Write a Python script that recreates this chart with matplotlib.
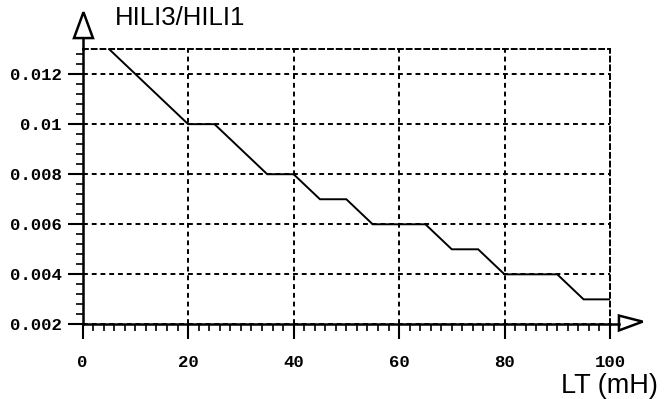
import matplotlib
matplotlib.use('Agg')
import matplotlib.pyplot as plt
from matplotlib.patches import Polygon
from matplotlib.ticker import MultipleLocator
import numpy as np

# inductance LT (mH) and ratio HILI3/HILI1
lt_mh = [5, 20, 25, 35, 40, 45, 50, 55, 65, 70, 75, 80, 90, 95, 100]
ratio = [0.013, 0.010, 0.010, 0.008, 0.008, 0.007, 0.007, 0.006, 0.006,
         0.005, 0.005, 0.004, 0.004, 0.003, 0.003]
x_ticks = [0, 20, 40, 60, 80, 100]
y_ticks = [0.002, 0.004, 0.006, 0.008, 0.01, 0.012]
y_tick_labels = ['0.002', '0.004', '0.006', '0.008', '0.01', '0.012']

plt.rcParams['font.family'] = ['Liberation Sans', 'DejaVu Sans']

fig = plt.figure(figsize=(6.7, 3.99), dpi=100)
ax = fig.add_axes([0.1234, 0.187, 0.787, 0.69])

ax.plot(lt_mh, ratio, color='black', lw=1.4, solid_joinstyle='miter')

ax.set_xlim(0, 100)
ax.set_ylim(0.002, 0.013)
ax.set_xticks(x_ticks)
ax.set_yticks(y_ticks)
ax.set_yticklabels(y_tick_labels)
ax.xaxis.set_minor_locator(MultipleLocator(2))
ax.yaxis.set_minor_locator(MultipleLocator(0.0004))

tick_font = dict(family='Liberation Mono', weight='bold', size=12.5)
for lab in ax.get_xticklabels() + ax.get_yticklabels():
    lab.set_fontproperties(matplotlib.font_manager.FontProperties(**tick_font))

ax.tick_params(axis='x', which='major', direction='out', length=11, width=1.5, pad=11)
ax.tick_params(axis='x', which='minor', direction='out', length=5, width=1.2)
ax.tick_params(axis='y', which='major', direction='out', length=11, width=1.5, pad=4)
ax.tick_params(axis='y', which='minor', direction='out', length=5, width=1.2)

ax.grid(True, which='major', color='black', lw=1.4, linestyle=(0, (2.5, 2)))

for side in ['left', 'bottom']:
    ax.spines[side].set_linewidth(1.8)
for side in ['top', 'right']:
    ax.spines[side].set_linewidth(1.4)
    ax.spines[side].set_linestyle((0, (2.5, 2)))

# arrow heads on the axes
ax.plot([0, 0], [1.0, 1.04], transform=ax.transAxes, color='black', lw=1.8, clip_on=False)
ax.add_patch(Polygon([[-0.0165, 1.04], [0.0195, 1.04], [0.0015, 1.134]], closed=True,
                     facecolor='white', edgecolor='black', lw=1.8,
                     transform=ax.transAxes, clip_on=False))
ax.plot([1.0, 1.017], [0, 0], transform=ax.transAxes, color='black', lw=1.8, clip_on=False)
ax.add_patch(Polygon([[1.017, 0.032], [1.017, -0.022], [1.062, 0.01]], closed=True,
                     facecolor='white', edgecolor='black', lw=1.8,
                     transform=ax.transAxes, clip_on=False))

fig.text(115 / 670, 1 - 18 / 399, 'HILI3/HILI1', fontsize=18.5, ha='left', va='center')
fig.text(658 / 670, 1 - 393 / 399, 'LT (mH)', fontsize=19.5, ha='right', va='baseline')

fig.savefig('out.png', dpi=100)
